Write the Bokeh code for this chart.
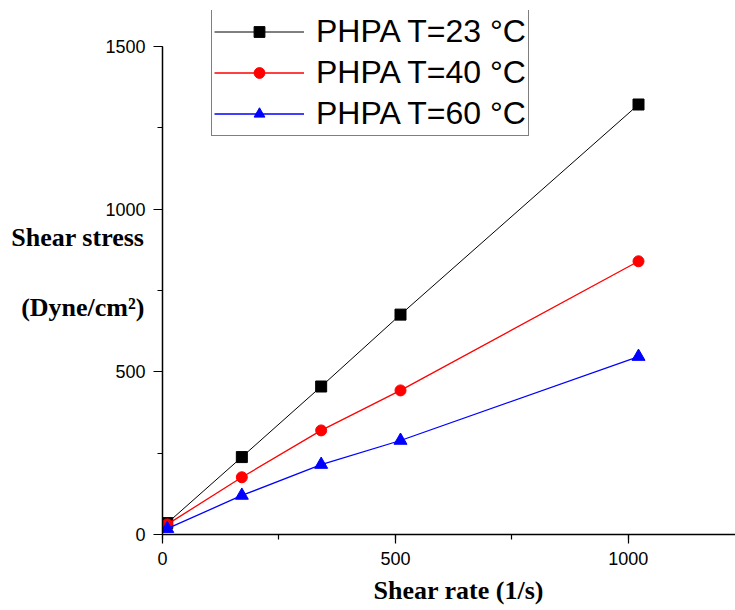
from bokeh.plotting import figure
from bokeh.models import Range1d, Legend, LegendItem, SingleIntervalTicker, Title
from bokeh.embed import file_html
from bokeh.resources import INLINE

shear_rate = [10.2, 170.3, 340.6, 510.9, 1021.8]
stress_23 = [35, 238, 455, 676, 1322]
stress_40 = [31, 176, 320, 443, 840]
stress_60 = [18, 120, 215, 289, 547]
labels = ["PHPA T=23 °C", "PHPA T=40 °C", "PHPA T=60 °C"]
x_title = "Shear rate (1/s)"
y_title = "Shear stress\n\n(Dyne/cm²)"

p = figure(width=735, height=610, output_backend="svg", toolbar_location=None,
           x_range=Range1d(0, 1230), y_range=Range1d(0, 1611),
           min_border_left=162, min_border_right=0, min_border_top=10, min_border_bottom=76)
p.grid.visible = False
p.outline_line_color = None
p.background_fill_color = "white"
p.border_fill_color = "white"

r1l = p.line(shear_rate, stress_23, line_color="black", line_width=1)
r1m = p.scatter(shear_rate, stress_23, marker="square", size=11, fill_color="black", line_color="black")
r2l = p.line(shear_rate, stress_40, line_color="red", line_width=1.3)
r2m = p.scatter(shear_rate, stress_40, marker="circle", size=11, fill_color="red", line_color="red")
r3l = p.line(shear_rate, stress_60, line_color="blue", line_width=1.3)
r3m = p.scatter(shear_rate, stress_60, marker="triangle", size=13, fill_color="blue", line_color="blue")

legend = Legend(items=[
    LegendItem(label=labels[0], renderers=[r1l, r1m]),
    LegendItem(label=labels[1], renderers=[r2l, r2m]),
    LegendItem(label=labels[2], renderers=[r3l, r3m]),
], location=(49, 398))
legend.label_text_font = "Liberation Sans"
legend.label_text_font_size = "32px"
legend.label_text_color = "black"
legend.label_height = 40
legend.glyph_height = 27
legend.glyph_width = 90
legend.label_standoff = 12
legend.spacing = 1
legend.padding = 2
legend.margin = 0
legend.border_line_color = "black"
legend.border_line_width = 1
legend.background_fill_alpha = 1
p.add_layout(legend)

for ax in (p.xaxis[0], p.yaxis[0]):
    ax.ticker = SingleIntervalTicker(interval=500, num_minor_ticks=2)
    ax.axis_line_color = "black"
    ax.axis_line_width = 1.5
    ax.major_tick_line_color = "black"
    ax.minor_tick_line_color = "black"
    ax.major_tick_line_width = 1.2
    ax.minor_tick_line_width = 1.2
    ax.major_tick_out = 9
    ax.major_tick_in = 0
    ax.minor_tick_out = 5
    ax.minor_tick_in = 0
    ax.major_label_text_font = "Liberation Sans"
    ax.major_label_text_font_size = "18px"
    ax.major_label_text_color = "black"
    ax.major_label_standoff = 8
p.yaxis[0].bounds = (0, 1500)

ya = p.yaxis[0]
ya.axis_label = y_title
ya.axis_label_orientation = "horizontal"
ya.axis_label_standoff = -42
ya.axis_label_text_font = "Liberation Serif"
ya.axis_label_text_font_style = "bold"
ya.axis_label_text_font_size = "26px"
ya.axis_label_text_color = "black"

p.add_layout(Title(text=x_title, align="left", offset=211, standoff=12,
                   text_font="Liberation Serif", text_font_style="bold",
                   text_font_size="26px", text_color="black"), "below")

open("out.html", "w").write(file_html(p, INLINE))
